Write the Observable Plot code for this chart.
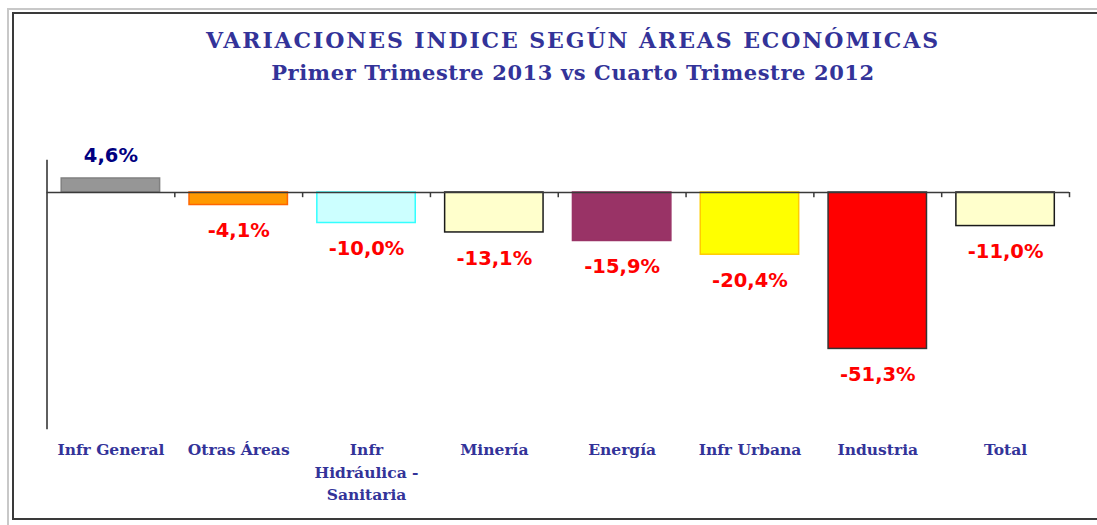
<!DOCTYPE html>
<html>
<head>
<meta charset="utf-8">
<script src="https://cdn.jsdelivr.net/npm/d3@7"></script>
<script src="https://cdn.jsdelivr.net/npm/@observablehq/plot@0.6"></script>
<style>
html, body { margin: 0; padding: 0; background: #fff; width: 1097px; height: 525px; overflow: hidden; }
body { position: relative; }
.gl { position: absolute; background: #c8c8c8; }
#frame { position: absolute; left: 12px; top: 12px; width: 1110px; height: 508px; border: 2px solid #3a3a3a; box-sizing: border-box; }
.title { position: absolute; left: 0; width: 1146px; text-align: center; font-family: "DejaVu Serif", serif; font-weight: bold; color: #333399; white-space: nowrap; }
#t1 { top: 27px; font-size: 22px; letter-spacing: 1.9px; }
#t2 { top: 60px; font-size: 21px; letter-spacing: 0.6px; }
#chart { position: absolute; left: 0; top: 0; }
</style>
</head>
<body>
<div class="gl" style="left:7px;top:8px;width:2px;height:517px"></div>
<div class="gl" style="left:7px;top:8px;width:1090px;height:2px"></div>
<div id="frame"></div>
<div class="title" id="t1">VARIACIONES INDICE SEGÚN ÁREAS ECONÓMICAS</div>
<div class="title" id="t2">Primer Trimestre 2013 vs Cuarto Trimestre 2012</div>
<div id="chart"></div>
<script>
// Data
const categories = ["Infr General", "Otras Áreas", "Infr Hidráulica - Sanitaria", "Minería", "Energía", "Infr Urbana", "Industria", "Total"];
const tickLabels = ["Infr General", "Otras Áreas", "Infr\nHidráulica -\nSanitaria", "Minería", "Energía", "Infr Urbana", "Industria", "Total"];
const values = [4.6, -4.1, -10.0, -13.1, -15.9, -20.4, -51.3, -11.0];

// Styles
const fills   = ["#969696", "#FF9900", "#CCFFFF", "#FFFFCC", "#993366", "#FFFF00", "#FF0000", "#FFFFCC"];
const strokes = ["#808080", "#FF6600", "#33FFFF", "#1a1a1a", "#993366", "#FFCC00", "#333333", "#1a1a1a"];

const rows = categories.map((c, i) => ({cat: c, label: tickLabels[i], value: values[i], fill: fills[i], stroke: strokes[i]}));
const fmt = d => d.value.toFixed(1).replace(".", ",") + "%";

const W = 1097, H = 525, ML = 46.5, MR = 28, MT = 160, MB = 97;
const step = (W - ML - MR) / categories.length;

const chart = Plot.plot({
  width: W, height: H,
  marginLeft: ML, marginRight: MR, marginTop: MT, marginBottom: MB,
  style: {background: "transparent", overflow: "visible"},
  x: {domain: categories, paddingInner: 0.23, paddingOuter: 0.115, round: false, axis: null},
  y: {domain: [-77.4, 10.5], axis: null},
  color: {type: "identity"},
  marks: [
    Plot.frame({anchor: "left", stroke: "#2a2a2a", strokeWidth: 1.5}),
    Plot.barY(rows, {x: "cat", y: "value", fill: "fill", stroke: "stroke", strokeWidth: 1.5}),
    Plot.ruleY([0], {stroke: "#3a3a3a", strokeWidth: 1.5}),
    Plot.ruleX(categories, {x: d => d, y1: 0, y2: -1.7, dx: step / 2, stroke: "#3a3a3a", strokeWidth: 1.5}),
    Plot.text(rows.filter(d => d.value >= 0), {x: "cat", y: "value", text: fmt, dy: -23, fill: "#000080",
      fontFamily: "DejaVu Sans", fontWeight: "bold", fontSize: 19.5}),
    Plot.text(rows.filter(d => d.value < 0), {x: "cat", y: "value", text: fmt, dy: 26, fill: "#FF0000",
      fontFamily: "DejaVu Sans", fontWeight: "bold", fontSize: 19.5}),
    Plot.text(rows, {x: "cat", text: "label", frameAnchor: "bottom", lineAnchor: "top", dy: 11, lineHeight: 1.45,
      fill: "#333399", fontFamily: "DejaVu Serif", fontWeight: "bold", fontSize: 15.5})
  ]
});
document.getElementById("chart").appendChild(chart);
</script>
</body>
</html>
